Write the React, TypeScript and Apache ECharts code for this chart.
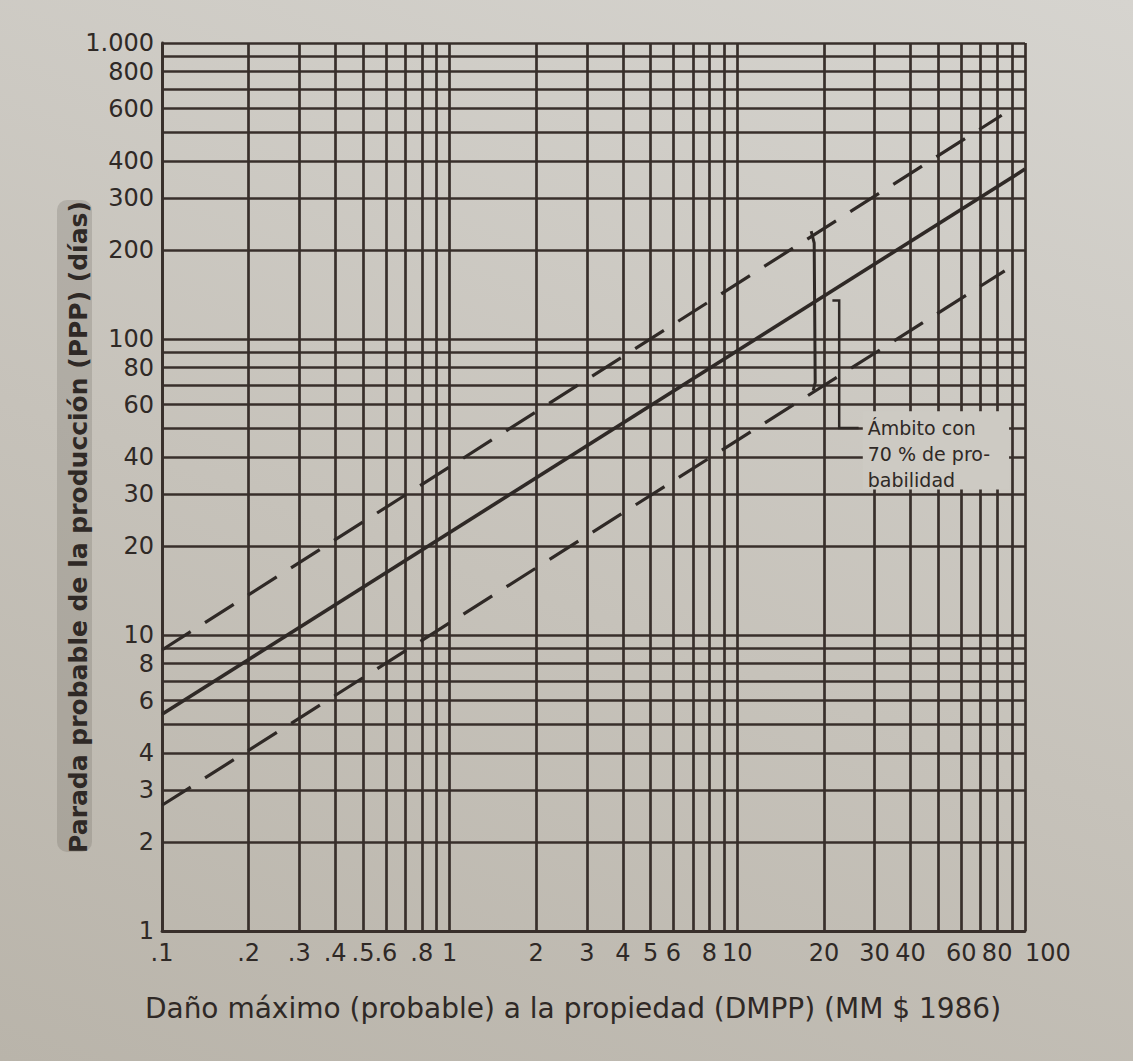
import React, { useEffect, useRef } from "react";
import * as echarts from "echarts";

// ---- Grid / tick values (log-log paper) ----
const xGridValues = [
  0.1, 0.2, 0.3, 0.4, 0.5, 0.6, 0.7, 0.8, 0.9,
  1, 2, 3, 4, 5, 6, 7, 8, 9,
  10, 20, 30, 40, 50, 60, 70, 80, 90, 100,
];
const yGridValues = [
  1, 2, 3, 4, 5, 6, 7, 8, 9,
  10, 20, 30, 40, 50, 60, 70, 80, 90,
  100, 200, 300, 400, 500, 600, 700, 800, 900, 1000,
];
const xLabelValues = [0.1, 0.2, 0.3, 0.4, 0.5, 0.6, 0.8, 1, 2, 3, 4, 5, 6, 8, 10, 20, 30, 40, 60, 80, 100];
const xLabelTexts = [".1", ".2", ".3", ".4", ".5", ".6", ".8", "1", "2", "3", "4", "5", "6", "8", "10", "20", "30", "40", "60", "80", "100"];
const yLabelValues = [1, 2, 3, 4, 6, 8, 10, 20, 30, 40, 60, 80, 100, 200, 300, 400, 600, 800, 1000];
const yLabelTexts = ["1", "2", "3", "4", "6", "8", "10", "20", "30", "40", "60", "80", "100", "200", "300", "400", "600", "800", "1.000"];

// ---- Lines (DMPP in MM $, PPP in days) ----
const solidX = [0.1, 100];
const solidY = [5.4, 375];
const upperX = [0.1, 83];
const upperY = [8.9, 570];
const lowerX = [0.1, 85];
const lowerY = [2.66, 170];

// ---- Annotation anchors (data coordinates) ----
const braceX = 18.5;
const braceTopY = 228;
const braceBottomY = 68;
const connectorX = [21.4, 22.6, 22.6, 26.4];
const connectorY = [135, 135, 50, 50];
const noteAnchor = [28.4, 50];
const noteBoxCorners = [[27.3, 57], [88, 31]];
const noteLines = ["Ámbito con", "70 % de pro-", "babilidad"];

const yName = "Parada probable de la producción (PPP) (días)";
const xName = "Daño máximo (probable) a la propiedad (DMPP) (MM $ 1986)";

const INK = "#2f2926";
const GRID = "#382f2b";
const FONT = "DejaVu Sans";

function pick(values: number[], texts: string[], v: number): string {
  for (let i = 0; i < values.length; i++) {
    if (Math.abs(values[i] - v) / values[i] < 1e-6) return texts[i];
  }
  return "";
}

function zip(xs: number[], ys: number[]) {
  return xs.map((x, i) => [x, ys[i]]);
}

export default function App() {
  const ref = useRef<HTMLDivElement>(null);

  useEffect(() => {
    if (!ref.current) return;
    const chart = echarts.init(ref.current, null, { renderer: "svg" });
    const gridLine = { show: true, lineStyle: { color: GRID, width: 2.7 } };
    const option: any = {
      animation: false,
      backgroundColor: "transparent",
      grid: { left: 162, right: 108, top: 43, bottom: 130, containLabel: false, outerBoundsMode: "none" },
      xAxis: {
        type: "log",
        logBase: 10,
        min: 0.1,
        max: 100,
        axisLine: { show: true, lineStyle: { color: GRID, width: 2.8 } },
        axisTick: { show: false, customValues: xGridValues },
        splitLine: gridLine,
        axisLabel: {
          customValues: xLabelValues,
          formatter: (v: number) => pick(xLabelValues, xLabelTexts, v),
          fontFamily: FONT,
          fontSize: 24,
          color: INK,
          margin: 10,
          alignMaxLabel: "left",
          hideOverlap: false,
        },
      },
      yAxis: {
        type: "log",
        logBase: 10,
        min: 1,
        max: 1000,
        axisLine: { show: true, lineStyle: { color: GRID, width: 2.8 } },
        axisTick: { show: false, customValues: yGridValues },
        splitLine: gridLine,
        axisLabel: {
          customValues: yLabelValues,
          formatter: (v: number) => pick(yLabelValues, yLabelTexts, v),
          fontFamily: FONT,
          fontSize: 24,
          color: INK,
          margin: 8,
          hideOverlap: false,
        },
      },
      series: [
        {
          type: "line",
          data: zip(solidX, solidY),
          symbol: "none",
          lineStyle: { color: INK, width: 3.6 },
          z: 5,
        },
        {
          type: "line",
          data: zip(upperX, upperY),
          symbol: "none",
          lineStyle: { color: INK, width: 3.2, type: [34, 17] },
          z: 5,
        },
        {
          type: "line",
          data: zip(lowerX, lowerY),
          symbol: "none",
          lineStyle: { color: INK, width: 3.2, type: [34, 17] },
          z: 5,
        },
      ],
    };
    chart.setOption(option);

    const px = (x: number, y: number) => chart.convertToPixel({ gridIndex: 0 }, [x, y]) as number[];
    const bTop = px(braceX, braceTopY);
    const bBot = px(braceX, braceBottomY);
    const conn = connectorX.map((x, i) => px(x, connectorY[i]));
    const note = px(noteAnchor[0], noteAnchor[1]);
    const c0 = px(noteBoxCorners[0][0], noteBoxCorners[0][1]);
    const c1 = px(noteBoxCorners[1][0], noteBoxCorners[1][1]);

    chart.setOption({
      graphic: [
        {
          type: "rect",
          shape: { x: 57, y: 200, width: 35, height: 652, r: 10 },
          style: { fill: "rgba(95,90,84,0.22)" },
          z: 1,
        },
        {
          type: "text",
          x: 78,
          y: 527,
          rotation: Math.PI / 2,
          style: {
            text: yName,
            fontFamily: FONT,
            fontSize: 25,
            fontWeight: "bold",
            fill: INK,
            align: "center",
            verticalAlign: "middle",
          },
          z: 10,
        },
        {
          type: "text",
          x: 573,
          y: 1008,
          style: {
            text: xName,
            fontFamily: FONT,
            fontSize: 28,
            fill: INK,
            align: "center",
            verticalAlign: "middle",
          },
          z: 10,
        },
        {
          type: "rect",
          shape: { x: c0[0], y: c0[1], width: c1[0] - c0[0], height: c1[1] - c0[1] },
          style: { fill: "#cdcac3" },
          z: 20,
        },
        {
          type: "polyline",
          shape: {
            points: [
              [bTop[0] - 3, bTop[1] - 2],
              [bTop[0], bTop[1] + 10],
              [bBot[0] + 1, bBot[1] - 6],
              [bBot[0] - 1, bBot[1] + 2],
            ],
          },
          style: { stroke: INK, lineWidth: 3, fill: null },
          z: 21,
        },
        {
          type: "polyline",
          shape: { points: conn },
          style: { stroke: INK, lineWidth: 2.5, fill: null },
          z: 21,
        },
        {
          type: "text",
          x: note[0],
          y: note[1] - 13,
          style: {
            text: noteLines.join("\n"),
            fontFamily: FONT,
            fontSize: 19,
            lineHeight: 26,
            fill: INK,
            align: "left",
            verticalAlign: "top",
          },
          z: 22,
        },
      ],
    });

    return () => chart.dispose();
  }, []);

  return (
    <div
      ref={ref}
      style={{
        position: "absolute",
        left: 0,
        top: 0,
        width: 1133,
        height: 1061,
        background: "linear-gradient(20deg, #b9b4aa 0%, #c6c2ba 45%, #d6d4cf 100%)",
      }}
    />
  );
}
